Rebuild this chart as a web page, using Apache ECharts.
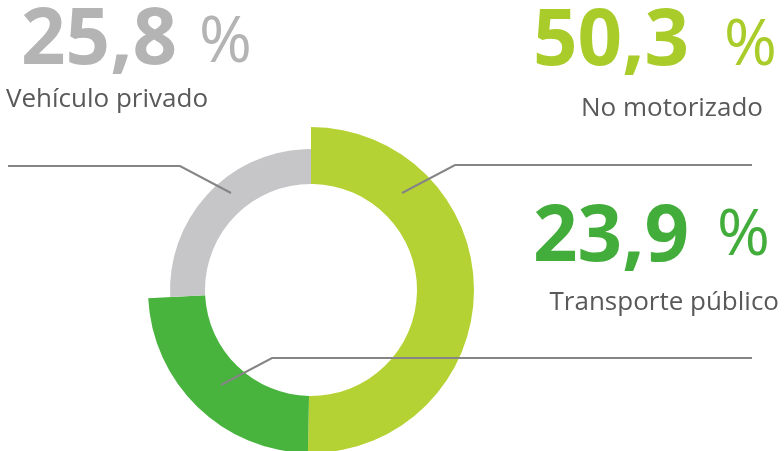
<!DOCTYPE html>
<html>
<head>
<meta charset="utf-8">
<script src="https://cdn.jsdelivr.net/npm/echarts@6/dist/echarts.min.js"></script>
<style>
  html, body { margin: 0; padding: 0; background: #fff; }
  #chart { width: 784px; height: 451px; }
</style>
</head>
<body>
<div id="chart"></div>
<script>
// data
var categories = ['No motorizado', 'Transporte público', 'Vehículo privado'];
var values = [50.3, 23.9, 25.8];
var colors = ['#b4d233', '#48b43e', '#c6c6c8'];
var textColors = ['#a9cc2a', '#42ad3a', '#b4b4b4'];

function fmt(v) {
  return v.toFixed(1).replace('.', ',');
}

var chart = echarts.init(document.getElementById('chart'));

// outer ring for the two greens, thinner ring for the grey one
function ringData(show) {
  return values.map(function (v, i) {
    return {
      name: categories[i],
      value: v,
      itemStyle: { color: show.indexOf(i) >= 0 ? colors[i] : 'rgba(0,0,0,0)' }
    };
  });
}

var center = [311, 290];
var pieBase = {
  type: 'pie',
  center: center,
  startAngle: 90,
  clockwise: true,
  silent: true,
  label: { show: false },
  labelLine: { show: false },
  emphasis: { disabled: true }
};

var lineStyle = { stroke: '#858585', lineWidth: 2, fill: null };
var numFont = 'bold 78px "Open Sans"';
var pctFont = 'normal 64px "Open Sans"';
var subFont = 'normal 26px "Open Sans"';

var options = {
  animation: false,
  series: [
    Object.assign({}, pieBase, { radius: [106, 163], data: ringData([0, 1]) }),
    Object.assign({}, pieBase, { radius: [106, 141], data: ringData([2]) })
  ],
  graphic: [
    // leader lines
    { type: 'polyline', z: 100, shape: { points: [[8, 166], [180, 166], [231, 193]] }, style: lineStyle },
    { type: 'polyline', z: 100, shape: { points: [[402, 193], [455, 165], [752, 165]] }, style: lineStyle },
    { type: 'polyline', z: 100, shape: { points: [[221, 385], [272, 358], [752, 358]] }, style: lineStyle },

    // Vehículo privado
    { type: 'text', style: { text: fmt(values[2]), x: 21, y: 42, font: numFont, fill: textColors[2], verticalAlign: 'middle' } },
    { type: 'text', style: { text: '%', x: 199, y: 44, font: pctFont, fill: textColors[2], verticalAlign: 'middle' } },
    { type: 'text', style: { text: categories[2], x: 6, y: 100, font: subFont, fill: '#595959', verticalAlign: 'middle' } },

    // No motorizado
    { type: 'text', style: { text: fmt(values[0]), x: 533, y: 43, font: numFont, fill: textColors[0], verticalAlign: 'middle' } },
    { type: 'text', style: { text: '%', x: 724, y: 47, font: pctFont, fill: textColors[0], verticalAlign: 'middle' } },
    { type: 'text', style: { text: categories[0], x: 763, y: 109, font: subFont, fill: '#595959', align: 'right', verticalAlign: 'middle' } },

    // Transporte público
    { type: 'text', style: { text: fmt(values[1]), x: 533, y: 239, font: numFont, fill: textColors[1], verticalAlign: 'middle' } },
    { type: 'text', style: { text: '%', x: 717, y: 237, font: pctFont, fill: textColors[1], verticalAlign: 'middle' } },
    { type: 'text', style: { text: categories[1], x: 779, y: 303, font: subFont, fill: '#595959', align: 'right', verticalAlign: 'middle' } }
  ]
};

chart.setOption(options);
window.addEventListener('resize', function () { chart.resize(); });
</script>
</body>
</html>
